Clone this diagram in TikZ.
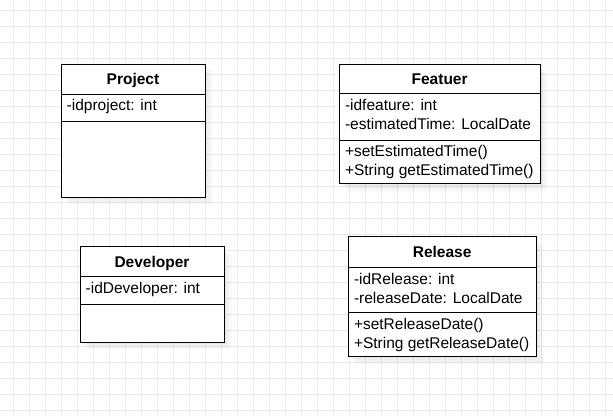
\documentclass[tikz,border=0pt]{standalone}
\usepackage{fontspec}
\setmainfont{Liberation Sans}
\usetikzlibrary{calc}
\definecolor{gridc}{RGB}{234,234,234}
\begin{document}
\begin{tikzpicture}[
  x=1pt, y=-1pt,
  gridline/.style={draw=gridc, line width=1pt},
  comp/.style={draw=black, line width=0.9pt, fill=white, anchor=north west, inner sep=0pt, outer sep=0pt},
  ttl/.style={font=\fontsize{15.5}{18}\selectfont\bfseries, anchor=base, inner sep=0pt},
  txt/.style={font=\fontsize{15.5}{18}\selectfont, anchor=base west, inner sep=0pt},
  shd/.style={fill=black, fill opacity=0.02, draw=none}
]
\useasboundingbox (0,0) rectangle (613,416);
\fill[white] (0,0) rectangle (613,416);
\foreach \x in {13,29,...,605} \draw[gridline] (\x,0) -- (\x,416);
\foreach \y in {10,26,...,410} \draw[gridline] (0,\y) -- (613,\y);

% shadows
\foreach \o in {2,4,6,8} {
  \fill[shd] (61+\o,64+\o) rectangle (205+\o,197+\o);
  \fill[shd] (339.3+\o,64.3+\o) rectangle (540+\o,183.7+\o);
  \fill[shd] (80+\o,246.7+\o) rectangle (224+\o,342.3+\o);
  \fill[shd] (348.3+\o,236.7+\o) rectangle (536+\o,356.7+\o);
}

% Project
\node[comp, minimum width=144pt, minimum height=30pt] (ph) at (61,64) {};
\node[comp, minimum width=144pt, minimum height=27.7pt] (pa) at (61,94) {};
\node[comp, minimum width=144pt, minimum height=75.3pt] (pm) at (61,121.7) {};
\node[ttl] (pt) at ($(ph.center)+(0,5.5)$) {Project};
\node[txt] (pa1) at ($(pa.north west)+(5.5,16.8)$) {-idproject: int};

% Featuer
\node[comp, minimum width=200.7pt, minimum height=29pt] (fh) at (339.3,64.3) {};
\node[comp, minimum width=200.7pt, minimum height=46.7pt] (fa) at (339.3,93.3) {};
\node[comp, minimum width=200.7pt, minimum height=43.7pt] (fm) at (339.3,140) {};
\node[ttl] (ft) at ($(fh.center)+(0,5.5)$) {Featuer};
\node[txt] (fa1) at ($(fa.north west)+(5.5,17.2)$) {-idfeature: int};
\node[txt] (fa2) at ($(fa.north west)+(5.5,36)$) {-estimatedTime: LocalDate};
\node[txt] (fm1) at ($(fm.north west)+(5.5,16.3)$) {+setEstimatedTime()};
\node[txt] (fm2) at ($(fm.north west)+(5.5,35.1)$) {+String getEstimatedTime()};

% Developer
\node[comp, minimum width=144pt, minimum height=30pt] (dh) at (80,246.7) {};
\node[comp, minimum width=144pt, minimum height=27.6pt] (da) at (80,276.7) {};
\node[comp, minimum width=144pt, minimum height=38pt] (dm) at (80,304.3) {};
\node[ttl] (dt) at ($(dh.center)+(0,5.5)$) {Developer};
\node[txt] (da1) at ($(da.north west)+(5.5,16.8)$) {-idDeveloper: int};

% Release
\node[comp, minimum width=187.7pt, minimum height=30.3pt] (rh) at (348.3,236.7) {};
\node[comp, minimum width=187.7pt, minimum height=45.7pt] (ra) at (348.3,267) {};
\node[comp, minimum width=187.7pt, minimum height=44pt] (rm) at (348.3,312.7) {};
\node[ttl] (rt) at ($(rh.center)+(0,5.5)$) {Release};
\node[txt] (ra1) at ($(ra.north west)+(5.5,17.4)$) {-idRelease: int};
\node[txt] (ra2) at ($(ra.north west)+(5.5,36.2)$) {-releaseDate: LocalDate};
\node[txt] (rm1) at ($(rm.north west)+(5.5,16.6)$) {+setReleaseDate()};
\node[txt] (rm2) at ($(rm.north west)+(5.5,35.4)$) {+String getReleaseDate()};
\end{tikzpicture}
\end{document}
